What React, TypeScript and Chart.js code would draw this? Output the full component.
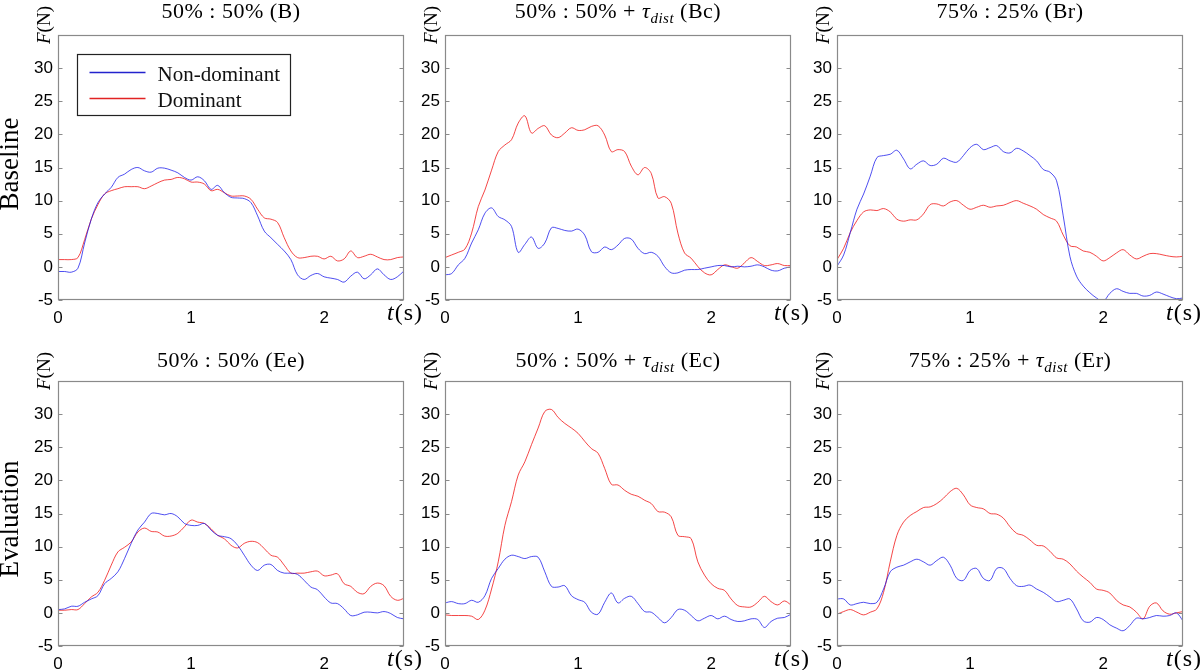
import React, { useEffect, useRef } from "react";
import { Chart, registerables } from "chart.js";

Chart.register(...registerables);

// ---------- data ----------
const TIME = [
  0, 0.05, 0.1, 0.15, 0.2, 0.25, 0.3, 0.35, 0.4, 0.45,
  0.5, 0.55, 0.6, 0.65, 0.7, 0.75, 0.8, 0.85, 0.9, 0.95,
  1.0, 1.05, 1.1, 1.15, 1.2, 1.25, 1.3, 1.35, 1.4, 1.45,
  1.5, 1.55, 1.6, 1.65, 1.7, 1.75, 1.8, 1.85, 1.9, 1.95,
  2.0, 2.05, 2.1, 2.15, 2.2, 2.25, 2.3, 2.35, 2.4, 2.45,
  2.5, 2.55, 2.6,
];
const Y_TICKS = [-5, 0, 5, 10, 15, 20, 25, 30];
const X_TICKS = [0, 1, 2];
const SERIES_LABELS = ["Non-dominant", "Dominant"];
const ROW_LABELS = ["Baseline", "Evaluation"];

const B_NONDOM = [
  -0.7, -0.7, -0.8, -0.2, 3.6, 7.2, 9.7, 11.0, 12.0, 13.5,
  14.0, 14.7, 15.0, 14.5, 14.3, 14.9, 14.9, 14.6, 14.2, 13.5,
  13.1, 13.6, 13.0, 11.7, 12.3, 11.2, 10.5, 10.4, 10.3, 9.7,
  7.7, 5.4, 4.4, 3.4, 2.4, 1.1, -1.2, -1.9, -1.3, -1.0,
  -1.5, -1.7, -1.9, -2.3, -1.4, -0.8, -1.8, -1.2, -0.3, -1.2,
  -1.9, -1.5, -0.6,
];
const B_DOM = [
  1.1, 1.1, 1.1, 1.4, 4.1, 7.2, 9.4, 11.0, 11.5, 11.8,
  12.1, 12.1, 12.1, 11.8, 12.2, 12.7, 13.1, 13.2, 13.5, 13.3,
  12.8, 12.8, 12.5, 11.5, 11.7, 11.2, 10.7, 10.7, 10.7, 10.2,
  8.7, 7.4, 7.2, 6.7, 4.4, 2.4, 1.4, 1.4, 1.6, 1.6,
  1.2, 1.6, 0.9, 1.2, 2.4, 1.4, 1.6, 1.9, 1.5, 1.1,
  1.1, 1.4, 1.5,
];
const BC_NONDOM = [
  -1.2, -1.0, 0.3, 1.3, 3.6, 5.6, 8.1, 8.9, 7.6, 7.1,
  6.1, 2.2, 3.4, 4.5, 2.8, 3.6, 5.9, 5.8, 5.5, 5.4,
  5.7, 4.8, 2.3, 2.2, 3.0, 2.6, 3.3, 4.3, 4.2, 2.8,
  2.0, 2.2, 1.6, 0.05, -0.9, -0.9, -0.5, -0.4, -0.4, -0.2,
  0.0, 0.2, 0.2, 0.0, 0.1, 0.0, 0.1, 0.3, 0.0, -0.5,
  -0.6, -0.2, 0.0,
];
const BC_DOM = [
  1.4, 1.8, 2.2, 2.7, 5.1, 9.1, 11.6, 14.6, 17.4, 18.4,
  19.2, 21.7, 22.8, 20.2, 20.9, 21.3, 19.9, 19.5, 20.2, 21.0,
  20.6, 20.7, 21.2, 21.3, 19.9, 17.4, 17.7, 17.4, 15.2, 13.9,
  15.0, 14.1, 10.4, 10.6, 9.6, 5.1, 2.1, 1.3, 0.05, -0.9,
  -1.2, -0.4, 0.3, 0.05, -0.2, 0.6, 1.4, 0.8, 0.2, 0.3,
  0.5, 0.2, 0.2,
];
const BR_NONDOM = [
  0.1, 1.8, 5.2, 8.7, 11.0, 13.7, 16.5, 16.8, 17.0, 17.6,
  16.3, 14.8, 15.5, 16.0, 15.3, 15.5, 16.4, 16.0, 15.8, 16.8,
  18.0, 18.5, 17.7, 18.0, 18.3, 17.4, 17.2, 17.9, 17.5, 16.8,
  16.0, 14.7, 14.3, 13.0, 7.7, 1.6, -1.4, -2.9, -3.9, -4.7,
  -5.2, -4.0, -3.3, -3.7, -4.0, -4.0, -4.4, -4.3, -3.8, -4.1,
  -4.5, -4.8, -4.7,
];
const BR_DOM = [
  1.1, 2.8, 5.2, 7.0, 8.3, 8.6, 8.5, 8.8, 8.3, 7.2,
  6.9, 7.1, 7.1, 8.0, 9.4, 9.5, 9.2, 9.8, 10.0, 9.3,
  8.7, 9.0, 9.3, 9.0, 9.2, 9.3, 9.7, 10.0, 9.6, 9.2,
  8.7, 7.9, 7.4, 6.9, 4.8, 3.2, 3.0, 2.4, 2.2, 1.6,
  0.9, 1.4, 2.1, 2.6, 1.8, 1.2, 1.6, 2.0, 2.0, 1.8,
  1.6, 1.5, 1.6,
];
const EE_NONDOM = [
  0.5, 0.6, 1.0, 1.0, 1.6, 2.1, 2.6, 4.4, 5.2, 6.2,
  8.2, 10.5, 12.5, 13.7, 15.0, 15.0, 14.8, 15.0, 14.5, 13.5,
  13.2, 13.2, 13.5, 12.5, 11.7, 11.5, 11.2, 10.2, 8.7, 7.2,
  6.4, 7.2, 7.3, 6.4, 6.0, 6.0, 5.8, 4.9, 3.9, 3.5,
  2.4, 1.5, 1.4, 0.6, -0.4, -0.3, 0.1, 0.1, 0.0, 0.2,
  -0.1, -0.7, -0.9,
];
const EE_DOM = [
  0.4, 0.4, 0.5, 0.5, 1.4, 2.4, 3.1, 4.9, 7.2, 9.2,
  9.9, 10.7, 12.2, 12.8, 12.3, 12.2, 11.6, 11.6, 12.0, 13.0,
  14.0, 13.7, 13.5, 12.7, 11.7, 11.2, 10.2, 9.8, 10.5, 10.8,
  10.6, 9.7, 8.7, 8.4, 7.2, 6.0, 6.0, 6.0, 6.2, 6.3,
  5.6, 5.7, 5.9, 4.4, 4.0, 3.1, 2.9, 4.0, 4.5, 4.1,
  2.5, 1.9, 2.2,
];
const EC_NONDOM = [
  1.5, 1.7, 1.4, 1.4, 1.9, 1.6, 2.6, 5.2, 6.7, 8.1,
  8.7, 8.5, 8.2, 8.5, 8.4, 6.2, 4.0, 3.9, 4.1, 2.6,
  2.0, 1.6, 0.1, -0.2, 1.6, 3.0, 1.5, 2.2, 2.5, 1.4,
  0.2, 0.1, -0.7, -1.5, -0.7, 0.5, 0.4, -0.4, -1.2, -0.8,
  -0.4, -0.9, -0.5, -1.0, -1.3, -1.2, -0.9, -1.0, -2.2, -1.3,
  -0.8, -0.7, -0.2,
];
const EC_DOM = [
  -0.3, -0.4, -0.4, -0.4, -0.5, -1.0, 0.4, 3.6, 7.7, 13.2,
  16.8, 20.8, 22.8, 25.4, 27.9, 30.4, 30.7, 29.5, 28.6, 27.9,
  27.1, 25.9, 24.8, 24.1, 21.8, 19.4, 19.3, 18.5, 17.9, 17.6,
  17.0, 16.5, 15.3, 15.2, 14.5, 11.7, 11.5, 11.2, 7.7, 5.7,
  4.4, 3.7, 3.4, 2.1, 1.1, 0.9, 0.9, 1.6, 2.5, 1.7,
  1.2, 1.8, 1.2,
];
const ER_NONDOM = [
  2.1, 2.1, 1.2, 1.4, 1.6, 1.4, 1.6, 3.6, 6.2, 6.9,
  7.2, 7.7, 8.1, 7.7, 7.2, 7.9, 8.4, 7.2, 5.2, 4.9,
  6.4, 6.7, 5.2, 4.9, 6.7, 6.7, 5.2, 4.1, 4.0, 4.2,
  3.6, 3.1, 2.4, 1.7, 1.9, 2.1, 0.6, -1.2, -1.4, -0.7,
  -1.0, -1.8, -2.3, -2.7, -1.9, -0.8, -0.9, -0.7, -0.4, -0.5,
  -0.4, 0.0, -1.2,
];
const ER_DOM = [
  -0.2, 0.2, 0.5, 0.1, -0.3, 0.1, 0.6, 3.1, 7.7, 11.7,
  13.7, 14.7, 15.3, 15.9, 16.0, 16.5, 17.3, 18.3, 18.8, 17.8,
  16.3, 15.9, 15.7, 15.0, 14.9, 14.3, 13.0, 12.0, 11.7, 11.0,
  10.2, 10.1, 9.3, 8.3, 8.1, 7.4, 6.3, 5.4, 4.6, 3.6,
  3.4, 3.0, 1.9, 1.2, 0.9, 0.1, -0.9, 1.0, 1.5, 0.3,
  -0.2, 0.0, 0.2,
];

// ---------- styling / layout ----------
const SERIF = '"Liberation Serif", "Times New Roman", serif';
const SANS = '"Liberation Sans", Arial, sans-serif';
const BLUE = "rgba(20, 20, 235, 0.75)";
const RED = "rgba(240, 10, 10, 0.75)";
const LEGEND_BLUE = "rgb(35, 35, 205)";
const LEGEND_RED = "rgb(225, 35, 35)";
const BOX_COLOR = "#8a8a8a";

const BOX_LEFT = [58, 445, 837];
const BOX_WIDTH = 346;
const Y_AXIS_W = 58;
const RIGHT_PAD = 44;
const CANVAS_W = Y_AXIS_W + BOX_WIDTH + RIGHT_PAD;
const CANVAS_H = 335;
const ROW_TOP = [0, 335];
const AREA_TOP = [35, 46];
const AREA_BOTTOM = [300, 311];
const TITLE_BASE = [18, 32];
const ROW_LABEL_Y = [164, 184];

type Part = { text: string; italic?: boolean; sub?: boolean };

const tau: Part[] = [
  { text: "τ", italic: true },
  { text: "dist", italic: true, sub: true },
];

const PANELS = [
  { row: 0, col: 0, title: [{ text: "50% : 50% (B)" }] as Part[], nd: B_NONDOM, d: B_DOM, legend: true },
  { row: 0, col: 1, title: [{ text: "50% : 50% + " }, ...tau, { text: " (Bc)" }] as Part[], nd: BC_NONDOM, d: BC_DOM, legend: false },
  { row: 0, col: 2, title: [{ text: "75% : 25% (Br)" }] as Part[], nd: BR_NONDOM, d: BR_DOM, legend: false },
  { row: 1, col: 0, title: [{ text: "50% : 50% (Ee)" }] as Part[], nd: EE_NONDOM, d: EE_DOM, legend: false },
  { row: 1, col: 1, title: [{ text: "50% : 50% + " }, ...tau, { text: " (Ec)" }] as Part[], nd: EC_NONDOM, d: EC_DOM, legend: false },
  { row: 1, col: 2, title: [{ text: "75% : 25% + " }, ...tau, { text: " (Er)" }] as Part[], nd: ER_NONDOM, d: ER_DOM, legend: false },
];

function drawParts(ctx: CanvasRenderingContext2D, parts: Part[], x: number, y: number, align: "left" | "center", size: number, spacing: number) {
  const fontFor = (p: Part) => `${p.italic ? "italic " : ""}${p.sub ? Math.round(size * 0.7) : size}px ${SERIF}`;
  (ctx as any).letterSpacing = `${spacing}px`;
  const widths = parts.map((p) => {
    ctx.font = fontFor(p);
    return ctx.measureText(p.text).width;
  });
  const total = widths.reduce((a, b) => a + b, 0);
  let cx = align === "center" ? x - total / 2 : x;
  ctx.textAlign = "left";
  ctx.textBaseline = "alphabetic";
  parts.forEach((p, i) => {
    ctx.font = fontFor(p);
    ctx.fillText(p.text, cx, y + (p.sub ? size * 0.22 : 0));
    cx += widths[i];
  });
  (ctx as any).letterSpacing = "0px";
}

function makeDecor(panel: (typeof PANELS)[number]) {
  return {
    id: "decor",
    afterDatasetsDraw(chart: any) {
      const ctx: CanvasRenderingContext2D = chart.ctx;
      const ca = chart.chartArea;
      const ys = chart.scales.y;
      ctx.save();
      // box
      const L = Math.round(ca.left) + 0.5;
      const T = Math.round(ca.top) + 0.5;
      const R = Math.round(ca.right) - 0.5;
      const B = Math.round(ca.bottom) - 0.5;
      ctx.strokeStyle = BOX_COLOR;
      ctx.lineWidth = 1.2;
      ctx.strokeRect(L, T, R - L, B - T);
      // inward ticks on left & right
      ctx.lineWidth = 1;
      ctx.beginPath();
      Y_TICKS.forEach((v) => {
        const y = Math.round(ys.getPixelForValue(v)) + 0.5;
        ctx.moveTo(L, y);
        ctx.lineTo(L + 4, y);
        ctx.moveTo(R - 4, y);
        ctx.lineTo(R, y);
      });
      ctx.stroke();

      ctx.fillStyle = "#000";
      // title
      drawParts(ctx, panel.title, (ca.left + ca.right) / 2, TITLE_BASE[panel.row], "center", 22, 0.5);

      // F(N) rotated
      ctx.save();
      ctx.translate(ca.left - 8, ca.top - 10);
      ctx.rotate(-Math.PI / 2);
      drawParts(ctx, [{ text: "F", italic: true }, { text: "(N)" }], 0, 0, "center", 19, 0);
      ctx.restore();

      // t(s)
      drawParts(ctx, [{ text: "t", italic: true }, { text: "(s)" }], ca.right - 17, ca.bottom + 20, "left", 24, 1);

      // row label
      if (panel.col === 0) {
        ctx.save();
        ctx.translate(18, ROW_LABEL_Y[panel.row]);
        ctx.rotate(-Math.PI / 2);
        drawParts(ctx, [{ text: ROW_LABELS[panel.row] }], 0, 0, "center", 27, 0);
        ctx.restore();
      }

      // legend
      if (panel.legend) {
        const lx = ca.left + 19.5;
        const ly = ca.top + 19.5;
        ctx.strokeStyle = "#222";
        ctx.lineWidth = 1.2;
        ctx.fillStyle = "#fff";
        ctx.fillRect(lx, ly, 213, 61);
        ctx.strokeRect(lx, ly, 213, 61);
        const rows = [
          { label: chart.data.datasets[0].label, color: LEGEND_BLUE, y: ly + 18 },
          { label: chart.data.datasets[1].label, color: LEGEND_RED, y: ly + 44 },
        ];
        rows.forEach((r) => {
          ctx.strokeStyle = r.color;
          ctx.lineWidth = 1.4;
          ctx.beginPath();
          ctx.moveTo(lx + 12, r.y);
          ctx.lineTo(lx + 68, r.y);
          ctx.stroke();
          ctx.fillStyle = "#111";
          drawParts(ctx, [{ text: r.label }], lx + 80, r.y + 8, "left", 21, 0);
        });
      }
      ctx.restore();
    },
  };
}

function Panel({ panel }: { panel: (typeof PANELS)[number] }) {
  const ref = useRef<HTMLCanvasElement | null>(null);
  useEffect(() => {
    const canvas = ref.current;
    if (!canvas) return;
    const row = panel.row;
    const chart = new Chart(canvas, {
      type: "line",
      data: {
        datasets: [
          {
            label: SERIES_LABELS[0],
            data: TIME.map((t, i) => ({ x: t, y: panel.nd[i] })),
            borderColor: BLUE,
            borderWidth: 1,
            pointRadius: 0,
            tension: 0.35,
            fill: false,
          },
          {
            label: SERIES_LABELS[1],
            data: TIME.map((t, i) => ({ x: t, y: panel.d[i] })),
            borderColor: RED,
            borderWidth: 1,
            pointRadius: 0,
            tension: 0.35,
            fill: false,
          },
        ],
      },
      options: {
        responsive: false,
        animation: false,
        devicePixelRatio: 1,
        events: [],
        layout: { padding: { left: 0, top: AREA_TOP[row], right: RIGHT_PAD, bottom: 0 } },
        plugins: { legend: { display: false }, tooltip: { enabled: false }, title: { display: false } },
        scales: {
          x: {
            type: "linear",
            min: 0,
            max: 2.6,
            grid: { display: false, drawTicks: false },
            border: { display: false },
            ticks: { padding: 8, color: "#000", maxRotation: 0, autoSkip: false, font: { family: SANS, size: 17 } },
            afterBuildTicks: (s: any) => {
              s.ticks = X_TICKS.map((v) => ({ value: v }));
            },
            afterFit: (s: any) => {
              s.height = CANVAS_H - AREA_BOTTOM[row];
            },
          },
          y: {
            type: "linear",
            min: -5,
            max: 35,
            grid: { display: false, drawTicks: false },
            border: { display: false },
            ticks: { padding: 5, color: "#000", autoSkip: false, font: { family: SANS, size: 17 } },
            afterBuildTicks: (s: any) => {
              s.ticks = Y_TICKS.map((v) => ({ value: v }));
            },
            afterFit: (s: any) => {
              s.width = Y_AXIS_W;
            },
          },
        },
      } as any,
      plugins: [makeDecor(panel) as any],
    });
    return () => chart.destroy();
  }, [panel]);

  return (
    <canvas
      ref={ref}
      width={CANVAS_W}
      height={CANVAS_H}
      style={{
        position: "absolute",
        left: BOX_LEFT[panel.col] - Y_AXIS_W,
        top: ROW_TOP[panel.row],
        width: CANVAS_W,
        height: CANVAS_H,
      }}
    />
  );
}

export default function App() {
  return (
    <div
      style={{
        position: "absolute",
        left: 0,
        top: 0,
        width: 1200,
        height: 670,
        overflow: "hidden",
        background: "#fff",
      }}
    >
      {PANELS.map((p, i) => (
        <Panel key={i} panel={p} />
      ))}
    </div>
  );
}
